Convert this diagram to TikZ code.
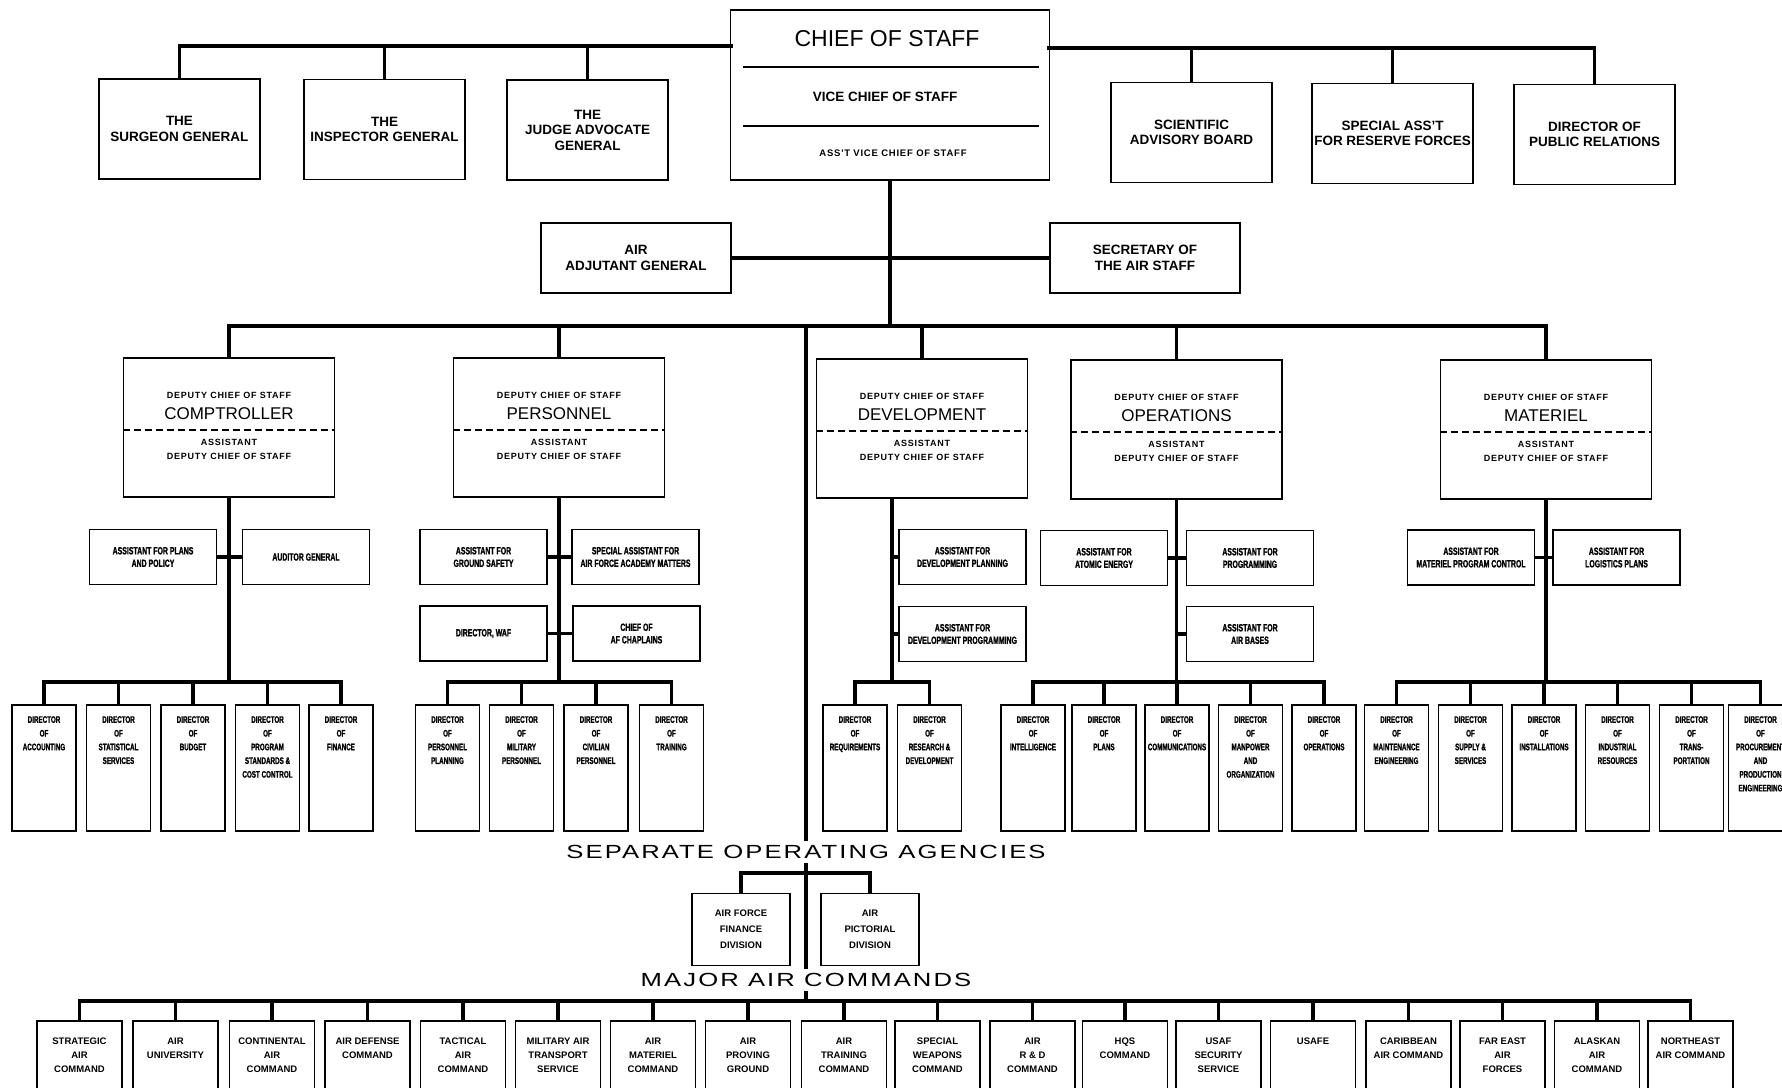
\documentclass[tikz,border=0pt]{standalone}
\usepackage{fontspec}
\setmainfont{Liberation Sans}
\newfontfamily\narrowfont{Liberation Sans}[FakeStretch=0.66,BoldFeatures={FakeBold=1.2}]
\newfontfamily\widefont{Liberation Sans}[FakeStretch=1.35,LetterSpace=11]
\newfontfamily\spacedfont{Liberation Sans}[LetterSpace=8]
\tikzset{
  conn/.style={line width=3.2pt,line cap=rect},
  box/.style={draw,line width=1.8pt,inner sep=0pt,align=center},
  topbox/.style={box,minimum width=161pt,minimum height=100pt,font=\fontsize{13.5}{15.5}\selectfont\bfseries},
  midbox/.style={box,minimum width=190pt,minimum height=70pt,font=\fontsize{13.5}{15.5}\selectfont\bfseries},
  dcsbox/.style={box,anchor=north,minimum width=211pt,minimum height=139pt},
  dcssmall/.style={inner sep=0pt,align=center,font=\fontsize{9}{14}\spacedfont\bfseries},
  dcsname/.style={inner sep=0pt,font=\fontsize{17}{20}\selectfont},
  asstbox/.style={box,minimum width=127pt,minimum height=55pt,font=\fontsize{10.5}{12.5}\narrowfont\bfseries},
  dirbox/.style={box,anchor=north,minimum width=64pt,minimum height=126pt},
  dirlab/.style={anchor=north,yshift=-12pt,inner sep=0pt,align=center,font=\fontsize{9.5}{13.7}\narrowfont\bfseries},
  cmdbox/.style={box,anchor=north,minimum width=85pt,minimum height=100pt},
  cmdlab/.style={anchor=north,yshift=-18pt,inner sep=0pt,align=center,font=\fontsize{9.5}{14}\selectfont\bfseries},
  agcbox/.style={box,minimum width=98pt,minimum height=72pt,font=\fontsize{9.5}{16}\selectfont\bfseries},
  heading/.style={fill=white,inner sep=4pt,font=\fontsize{19}{22}\widefont}
}
\begin{document}
\begin{tikzpicture}[x=1pt,y=-1pt]
\useasboundingbox (0,0) rectangle (1782,1087);
\clip (0,0) rectangle (1782,1087);

% chief of staff
\node[box,minimum width=319pt,minimum height=170pt] (cos) at (890,95) {};
\node[inner sep=0pt,font=\fontsize{23}{26}\selectfont] (cos-a) at (887,39) {CHIEF OF STAFF};
\draw[line width=1.5pt] (743,67) -- (1039,67);
\node[inner sep=0pt,font=\fontsize{13.5}{16}\selectfont\bfseries] (cos-b) at (885,97) {VICE CHIEF OF STAFF};
\draw[line width=1.5pt] (743,126) -- (1039,126);
\node[inner sep=0pt,font=\fontsize{9.5}{11}\spacedfont\bfseries] (cos-c) at (893,153) {ASS'T VICE CHIEF OF STAFF};

% staff offices
\node[topbox] (surg) at (179.5,129) {THE\\SURGEON GENERAL};
\node[topbox] (insp) at (384.5,129.5) {THE\\INSPECTOR GENERAL};
\node[topbox] (jag) at (587.5,130) {THE\\JUDGE ADVOCATE\\GENERAL};
\node[topbox] (sab) at (1191.5,132.5) {SCIENTIFIC\\ADVISORY BOARD};
\node[topbox] (res) at (1392.5,133.5) {SPECIAL ASS'T\\FOR RESERVE FORCES};
\node[topbox] (pr) at (1594.5,134.5) {DIRECTOR OF\\PUBLIC RELATIONS};
\coordinate (lbus) at (731,46);
\coordinate (rbus) at (1049,48);
\draw[conn] (surg.north) |- (lbus);
\draw[conn] (insp.north) -- (insp.north |- lbus);
\draw[conn] (jag.north) -- (jag.north |- lbus);
\draw[conn] (pr.north) |- (rbus);
\draw[conn] (sab.north) -- (sab.north |- rbus);
\draw[conn] (res.north) -- (res.north |- rbus);

\node[midbox] (aag) at (636,258) {AIR\\ADJUTANT GENERAL};
\node[midbox] (sec) at (1145,258) {SECRETARY OF\\THE AIR STAFF};
\coordinate (dcsbus) at (890,326);
\draw[conn] (cos.south) -- (dcsbus);
\draw[conn] (aag.east) -- (aag.east -| cos.south);
\draw[conn] (sec.west) -- (sec.west -| cos.south);

% deputy chiefs of staff
\foreach \n/\x/\y/\txt in {comp/229/357/COMPTROLLER,pers/559/357/PERSONNEL,dev/922/358/DEVELOPMENT,ops/1176.5/359/OPERATIONS,mat/1546/359/MATERIEL}{
  \node[dcsbox] (\n) at (\x,\y) {};
  \node[dcssmall] (\n-a) at ([yshift=-38pt]\n.north) {DEPUTY CHIEF OF STAFF};
  \node[dcsname] (\n-b) at ([yshift=-57pt]\n.north) {\txt};
  \draw[line width=1.5pt,dash pattern=on 7pt off 4pt] ([yshift=-73pt]\n.north west) -- ([yshift=-73pt]\n.north east);
  \node[dcssmall] (\n-c) at ([yshift=-92pt]\n.north) {ASSISTANT\\DEPUTY CHIEF OF STAFF};
  \draw[conn] (\n.north) -- (\n.north |- dcsbus);
}
\draw[conn] (comp.north |- dcsbus) -- (mat.north |- dcsbus);

% separate operating agencies trunk
\coordinate (soa) at (806,326);
\coordinate (macbus) at (806,1001);
\draw[conn] (soa) -- (macbus);

% assistants
\node[asstbox] (plans) at (153,557) {ASSISTANT FOR PLANS\\AND POLICY};
\node[asstbox] (aud) at (306,557) {AUDITOR GENERAL};
\node[asstbox] (safety) at (483.5,557) {ASSISTANT FOR\\GROUND SAFETY};
\node[asstbox] (acad) at (635.5,557) {SPECIAL ASSISTANT FOR\\AIR FORCE ACADEMY MATTERS};
\node[asstbox] (waf) at (483.5,633.5) {DIRECTOR, WAF};
\node[asstbox] (chap) at (636.5,633.5) {CHIEF OF\\AF CHAPLAINS};
\node[asstbox] (devplan) at (962.5,557) {ASSISTANT FOR\\DEVELOPMENT PLANNING};
\node[asstbox] (devprog) at (962.5,634) {ASSISTANT FOR\\DEVELOPMENT PROGRAMMING};
\node[asstbox] (atom) at (1104,558) {ASSISTANT FOR\\ATOMIC ENERGY};
\node[asstbox] (prog) at (1250,558) {ASSISTANT FOR\\PROGRAMMING};
\node[asstbox] (bases) at (1250,634) {ASSISTANT FOR\\AIR BASES};
\node[asstbox] (matprog) at (1471,557.5) {ASSISTANT FOR\\MATERIEL PROGRAM CONTROL};
\node[asstbox] (logplans) at (1616.5,557.5) {ASSISTANT FOR\\LOGISTICS PLANS};
\coordinate (devjoin) at (892,682);
\draw[conn] (plans) -- (aud);
\draw[conn] (safety) -- (acad);
\draw[conn] (waf) -- (chap);
\draw[conn] (atom) -- (prog);
\draw[conn] (matprog) -- (logplans);
\draw[conn] (devplan.west) -- (devplan.west -| devjoin);
\draw[conn] (devprog.west) -- (devprog.west -| devjoin);
\draw[conn] (bases.west) -- (bases.west -| ops.south);

% directors
\foreach \n/\x/\txt in {acct/44/DIRECTOR\\OF\\ACCOUNTING,
    stat/118.5/DIRECTOR\\OF\\STATISTICAL\\SERVICES,
    budg/193/DIRECTOR\\OF\\BUDGET,
    pstd/267.5/DIRECTOR\\OF\\PROGRAM\\STANDARDS \&\\COST CONTROL,
    fin/341/DIRECTOR\\OF\\FINANCE,
    pplan/447.5/DIRECTOR\\OF\\PERSONNEL\\PLANNING,
    mil/521.5/DIRECTOR\\OF\\MILITARY\\PERSONNEL,
    civ/596/DIRECTOR\\OF\\CIVILIAN\\PERSONNEL,
    trng/671.5/DIRECTOR\\OF\\TRAINING,
    req/855/DIRECTOR\\OF\\REQUIREMENTS,
    rd/929.5/DIRECTOR\\OF\\RESEARCH \&\\DEVELOPMENT,
    intel/1033/DIRECTOR\\OF\\INTELLIGENCE,
    plns/1104/DIRECTOR\\OF\\PLANS,
    comm/1177/DIRECTOR\\OF\\COMMUNICATIONS,
    manp/1250.5/DIRECTOR\\OF\\MANPOWER\\AND\\ORGANIZATION,
    oper/1324/DIRECTOR\\OF\\OPERATIONS,
    maint/1396.5/DIRECTOR\\OF\\MAINTENANCE\\ENGINEERING,
    supp/1470.5/DIRECTOR\\OF\\SUPPLY \&\\SERVICES,
    inst/1544/DIRECTOR\\OF\\INSTALLATIONS,
    ind/1617.5/DIRECTOR\\OF\\INDUSTRIAL\\RESOURCES,
    trans/1691.5/DIRECTOR\\OF\\TRANS-\\PORTATION,
    proc/1760.5/DIRECTOR\\OF\\PROCUREMENT\\AND\\PRODUCTION\\ENGINEERING}{
  \node[dirbox,label={[dirlab]north:\txt}] (\n) at (\x,704) {};
  \draw[conn] (\n.north) -- ++(0,-22);
}
\draw[conn] (comp.south) -- (comp.south |- 0,682);
\draw[conn] (pers.south) -- (pers.south |- 0,682);
\draw[conn] (devjoin |- dev.south) -- (devjoin);
\draw[conn] (ops.south) -- (ops.south |- 0,682);
\draw[conn] (mat.south) -- (mat.south |- 0,682);
\draw[conn] (acct.north |- 0,682) -- (fin.north |- 0,682);
\draw[conn] (pplan.north |- 0,682) -- (trng.north |- 0,682);
\draw[conn] (req.north |- 0,682) -- (rd.north |- 0,682);
\draw[conn] (intel.north |- 0,682) -- (oper.north |- 0,682);
\draw[conn] (maint.north |- 0,682) -- (proc.north |- 0,682);

% separate operating agencies
\node[heading] (soa-t) at (806,852) {SEPARATE OPERATING AGENCIES};
\node[agcbox] (afin) at (741,929.5) {AIR FORCE\\FINANCE\\DIVISION};
\node[agcbox] (pict) at (870,929.5) {AIR\\PICTORIAL\\DIVISION};
\draw[conn] (afin.north) |- (pict.north |- 0,873) -- (pict.north);

% major air commands
\node[heading] (mac-t) at (806,980) {MAJOR AIR COMMANDS};
\foreach \n/\x/\txt in {sac/79.5/STRATEGIC\\AIR\\COMMAND,
    au/175.5/AIR\\UNIVERSITY,
    conac/272/CONTINENTAL\\AIR\\COMMAND,
    adc/367.5/AIR DEFENSE\\COMMAND,
    tac/463/TACTICAL\\AIR\\COMMAND,
    mats/558/MILITARY AIR\\TRANSPORT\\SERVICE,
    amc/653/AIR\\MATERIEL\\COMMAND,
    apg/748/AIR\\PROVING\\GROUND,
    atc/844/AIR\\TRAINING\\COMMAND,
    swc/937.5/SPECIAL\\WEAPONS\\COMMAND,
    ardc/1032.5/AIR\\R \& D\\COMMAND,
    hqs/1125/HQS\\COMMAND,
    uss/1218.5/USAF\\SECURITY\\SERVICE,
    usafe/1313/USAFE,
    caic/1408.5/CARIBBEAN\\AIR COMMAND,
    feaf/1502.5/FAR EAST\\AIR\\FORCES,
    aac/1597/ALASKAN\\AIR\\COMMAND,
    neac/1690.5/NORTHEAST\\AIR COMMAND}{
  \node[cmdbox,label={[cmdlab]north:\txt}] (\n) at (\x,1020) {};
  \draw[conn] (\n.north) -- ++(0,-19);
}
\draw[conn] (sac.north |- macbus) -- (neac.north |- macbus);
\end{tikzpicture}
\end{document}
